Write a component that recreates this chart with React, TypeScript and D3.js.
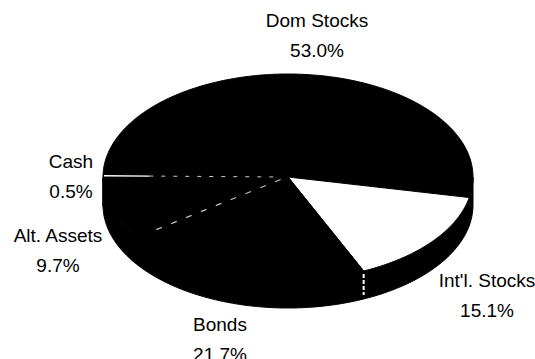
import React from "react";
import * as d3 from "d3";

const categories = ["Dom Stocks", "Int'l. Stocks", "Bonds", "Alt. Assets", "Cash"];
const values = [53.0, 15.1, 21.7, 9.7, 0.5];
const percentLabels = ["53.0%", "15.1%", "21.7%", "9.7%", "0.5%"];

// layout
const W = 535, H = 359;
const cx = 288, cy = 177, rx = 185, ry = 103, depth = 28;
const startDeg = 270.7; // d3.pie angle (clockwise from 12 o'clock)
const sliceFill = ["#000", "#fff", "#000", "#000", "#000"];
const labelAnchors: [number, number][] = [
  [317, 27],
  [487, 287],
  [220, 331],
  [58, 242],
  [71, 168],
];
const lineGap = 30;

const toRad = (d: number) => (d * Math.PI) / 180;

function pt(theta: number, dy = 0): [number, number] {
  return [cx + rx * Math.cos(theta), cy + ry * Math.sin(theta) + dy];
}

function arcPts(a0: number, a1: number, dy = 0): [number, number][] {
  const n = Math.max(2, Math.ceil(((a1 - a0) * 180) / Math.PI));
  const out: [number, number][] = [];
  for (let i = 0; i <= n; i++) out.push(pt(a0 + ((a1 - a0) * i) / n, dy));
  return out;
}

const line = d3.line<[number, number]>().x((d) => d[0]).y((d) => d[1]);

export default function App() {
  const pie = d3
    .pie<number>()
    .sort(null)
    .startAngle(toRad(startDeg))
    .endAngle(toRad(startDeg + 360));
  const arcs = pie(values).map((a, i) => ({
    i,
    t0: a.startAngle - Math.PI / 2,
    t1: a.endAngle - Math.PI / 2,
  }));

  // side walls (front half: screen angle in [0,π] mod 2π)
  const sides: string[] = [];
  arcs.forEach((a) => {
    for (const k of [0, 2 * Math.PI, 4 * Math.PI]) {
      const b0 = Math.max(a.t0, k);
      const b1 = Math.min(a.t1, k + Math.PI);
      if (b1 > b0) {
        const top = arcPts(b0, b1);
        const bot = arcPts(b0, b1, depth).reverse();
        sides.push(line([...top, ...bot])! + "Z");
      }
    }
  });

  const tops = arcs.map((a) => line([[cx, cy], ...arcPts(a.t0, a.t1)])! + "Z");

  const intl = arcs[1];
  const bonds = arcs[2];
  const alt = arcs[3];
  const cash = arcs[4];
  const sideEdge = pt(bonds.t0);
  const cashRim = pt(cash.t1);
  const cashMid: [number, number] = [
    cashRim[0] + (cx - cashRim[0]) * 0.25,
    cashRim[1] + (cy - cashRim[1]) * 0.25,
  ];
  const altRim = pt(alt.t0);

  return (
    <svg
      width={W}
      height={H}
      style={{ position: "absolute", left: 0, top: 0, background: "#fff" }}
      fontFamily="'Liberation Sans', Arial, sans-serif"
      fontSize={19}
    >
      {sides.map((d, i) => (
        <path key={"s" + i} d={d} fill="#000" stroke="#000" strokeWidth={1} />
      ))}
      {tops.map((d, i) => (
        <path key={"t" + i} d={d} fill={sliceFill[i]} stroke="#000" strokeWidth={1} />
      ))}
      {/* faint slice boundaries between dark slices */}
      <line x1={cashRim[0] + 1} y1={cashRim[1]} x2={cashMid[0]} y2={cashMid[1]} stroke="#fff" strokeWidth={1.3} />
      <line x1={cashMid[0]} y1={cashMid[1]} x2={cx - 8} y2={cy} stroke="#fff" strokeWidth={1} strokeDasharray="4 8" opacity={0.8} />
      <line x1={altRim[0] + 18} y1={altRim[1] - 8} x2={cx - 6} y2={cy + 2} stroke="#fff" strokeWidth={1.2} strokeDasharray="6 10" opacity={0.75} />
      <line x1={sideEdge[0]} y1={sideEdge[1] + 3} x2={sideEdge[0]} y2={sideEdge[1] + depth - 4} stroke="#fff" strokeWidth={2} strokeDasharray="4 2" />
      {categories.map((c, i) => (
        <g key={"l" + i} textAnchor="middle" fill="#000">
          <text x={labelAnchors[i][0]} y={labelAnchors[i][1]}>{c}</text>
          <text x={labelAnchors[i][0]} y={labelAnchors[i][1] + lineGap}>{percentLabels[i]}</text>
        </g>
      ))}
    </svg>
  );
}
